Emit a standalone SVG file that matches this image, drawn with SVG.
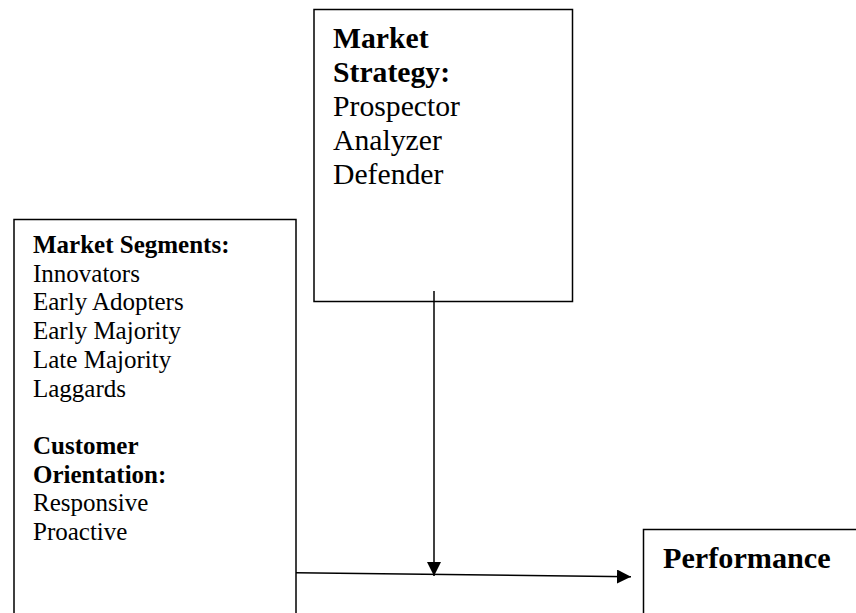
<svg xmlns="http://www.w3.org/2000/svg" width="856" height="613" viewBox="0 0 856 613">
<style>
.box{fill:#fff;stroke:#000;stroke-width:1.5}
.t{font-family:"Liberation Serif","Times New Roman",serif;fill:#000}
.b{font-weight:bold}
.s{font-size:25px}
.l{font-size:29.7px}
.p{font-size:30.2px}
.c{stroke:#000;stroke-width:1.5;fill:none}
</style>
<defs>
<marker id="ah" markerWidth="14" markerHeight="14" viewBox="0 0 14 14" refX="14" refY="7" orient="auto" markerUnits="userSpaceOnUse">
<path d="M0,0 L14,7 L0,14 Z" fill="#000"/>
</marker>
</defs>
<rect width="856" height="613" fill="#fff"/>
<g id="strategy">
<rect class="box" x="314" y="9.5" width="258.5" height="292"/>
<text class="t l b" x="333" y="48">Market</text>
<text class="t l b" x="333" y="82">Strategy:</text>
<text class="t l" x="333" y="115.5">Prospector</text>
<text class="t l" x="333" y="149.5">Analyzer</text>
<text class="t l" x="333" y="184">Defender</text>
</g>
<g id="segments">
<rect class="box" x="14" y="219.5" width="282" height="410"/>
<text class="t s b" x="33" y="253">Market Segments:</text>
<text class="t s" x="33" y="281.7">Innovators</text>
<text class="t s" x="33" y="310.4">Early Adopters</text>
<text class="t s" x="33" y="339.1">Early Majority</text>
<text class="t s" x="33" y="367.8">Late Majority</text>
<text class="t s" x="33" y="396.5">Laggards</text>
<text class="t s b" x="33" y="453.9">Customer</text>
<text class="t s b" x="33" y="482.6">Orientation:</text>
<text class="t s" x="33" y="511.3">Responsive</text>
<text class="t s" x="33" y="540">Proactive</text>
</g>
<g id="performance">
<rect class="box" x="643.5" y="529.5" width="230" height="100"/>
<text class="t p b" x="663" y="568">Performance</text>
</g>
<g id="connectors">
<line class="c" x1="434" y1="291" x2="434" y2="576" marker-end="url(#ah)"/>
<line class="c" x1="296" y1="572.7" x2="631" y2="576.7" marker-end="url(#ah)"/>
</g>
</svg>
